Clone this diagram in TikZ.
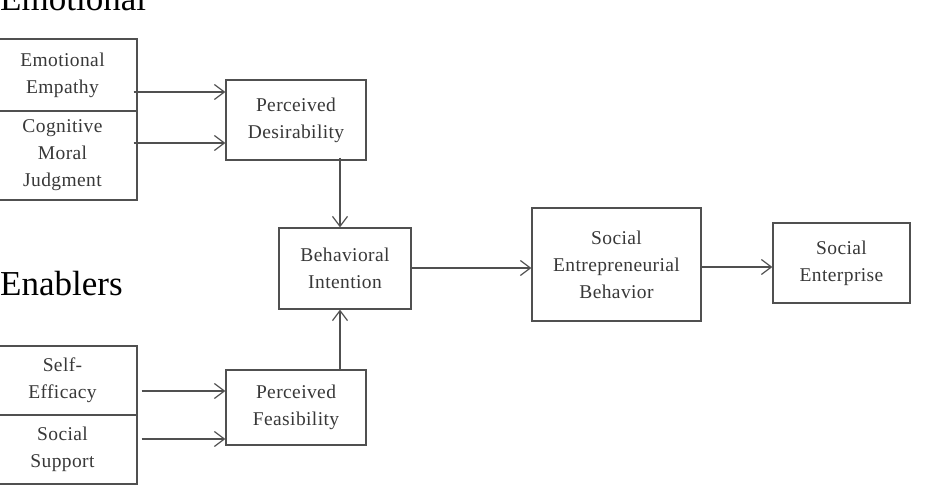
\documentclass[tikz,border=0pt]{standalone}
\usepackage{fontspec}
\setmainfont{Liberation Serif}
\newfontfamily\boxfont[LetterSpace=2]{Liberation Serif}
\usetikzlibrary{arrows.meta}
\definecolor{ln}{HTML}{505050}
\definecolor{tx}{HTML}{383838}
\tikzset{
  bx/.style={draw=ln, line width=1.3pt, rectangle, inner sep=0pt, align=center,
    text=tx, font=\boxfont\fontsize{19.5}{27}\selectfont},
  arr/.style={draw=ln, line width=1.2pt, -{Straight Barb[length=10pt,width=15pt,line width=1.2pt]}},
  big/.style={text=black, font=\fontsize{35}{40}\selectfont, inner sep=0pt, anchor=base west}
}
\begin{document}
\begin{tikzpicture}[x=1pt,y=-1pt]
\useasboundingbox (0,0) rectangle (928,488);
\node[big] (emo) at (0,10) {Emotional};
\node[big] (ena) at (0,295) {Enablers};
\node[bx, minimum width=149pt, minimum height=72pt] (ee) at (62.5,75) {Emotional\\Empathy};
\node[bx, minimum width=149pt, minimum height=89pt] (cmj) at (62.5,155.5) {Cognitive\\Moral\\Judgment};
\node[bx, minimum width=140pt, minimum height=80pt] (pd) at (296,120) {Perceived\\Desirability};
\node[bx, minimum width=132pt, minimum height=81pt] (bi) at (345,268.5) {Behavioral\\Intention};
\node[bx, minimum width=140pt, minimum height=75pt] (pf) at (296,407.5) {Perceived\\Feasibility};
\node[bx, minimum width=149pt, minimum height=69pt] (sef) at (62.5,380.5) {Self-\\Efficacy};
\node[bx, minimum width=149pt, minimum height=69pt] (ss) at (62.5,449.5) {Social\\Support};
\node[bx, minimum width=169pt, minimum height=113pt] (seb) at (616.5,264.5) {Social\\Entrepreneurial\\Behavior};
\node[bx, minimum width=137pt, minimum height=80pt] (se) at (841.5,263) {Social\\Enterprise};
\draw[arr] ([xshift=-4pt,yshift=-17pt]ee.east) -- ([yshift=-17pt]ee.east -| pd.west);
\draw[arr] ([xshift=-4pt,yshift=12.5pt]cmj.east) -- ([yshift=12.5pt]cmj.east -| pd.west);
\draw[arr] ([xshift=44pt,yshift=3pt]pd.south) -- ([xshift=-5pt]bi.north);
\draw[arr] ([xshift=44pt]pf.north) -- ([xshift=-5pt]bi.south);
\draw[arr] ([xshift=4pt,yshift=-10.5pt]sef.east) -- ([yshift=-10.5pt]sef.east -| pf.west);
\draw[arr] ([xshift=4pt,yshift=10.5pt]ss.east) -- ([yshift=10.5pt]ss.east -| pf.west);
\draw[arr] (bi.east |- 0,268) -- (seb.west |- 0,268);
\draw[arr] (seb.east |- 0,267) -- (se.west |- 0,267);
\end{tikzpicture}
\end{document}
